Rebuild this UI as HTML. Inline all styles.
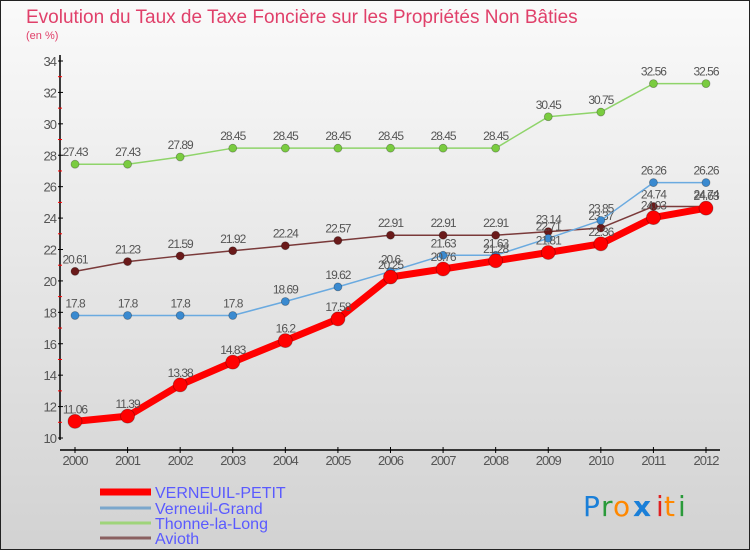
<!DOCTYPE html>
<html><head><meta charset="utf-8"><style>
body{margin:0}
#wrap{width:750px;height:550px;position:relative;overflow:hidden;background:linear-gradient(#fafafa,#d2d2d2);font-family:"Liberation Sans",sans-serif}
</style></head><body>
<div id="wrap">
<svg id="svg" width="750" height="550" xmlns="http://www.w3.org/2000/svg" style="position:absolute;left:0;top:0">
<rect x="0.5" y="0.5" width="749" height="549" fill="none" stroke="#222"/>
<text x="26" y="23" font-size="19" fill="#e0406a">Evolution du Taux de Taxe Foncière sur les Propriétés Non Bâties</text>
<text x="26" y="39" font-size="11" fill="#e0406a">(en %)</text>
<g id="axes"></g><g id="series"></g>
<g font-size="16" fill="#5a5aff">
<line x1="100" y1="492" x2="151" y2="492" stroke="#f00" stroke-width="7"/><text x="155" y="498">VERNEUIL-PETIT</text>
<line x1="100" y1="508" x2="151" y2="508" stroke="#7ba7cc" stroke-width="3"/><text x="155" y="514">Verneuil-Grand</text>
<line x1="100" y1="523" x2="151" y2="523" stroke="#9fd47a" stroke-width="3"/><text x="155" y="529">Thonne-la-Long</text>
<line x1="100" y1="538" x2="151" y2="538" stroke="#8a6060" stroke-width="3"/><text x="155" y="544">Avioth</text>
</g>
<g font-size="28" font-family="'DejaVu Sans',sans-serif">
<text x="583" y="516" fill="#1a7fd8">P</text><text x="601" y="516" fill="#2a9a3a">r</text><text x="613" y="516" fill="#ff8800">o</text><text x="633" y="516" fill="#1a7fd8" font-weight="bold">x</text><text x="656" y="516" fill="#e02020">i</text><text x="664" y="516" fill="#ff8800">t</text><text x="678" y="516" fill="#2a9a3a">i</text>
</g>
</svg></div>
<script>
const years=[2000,2001,2002,2003,2004,2005,2006,2007,2008,2009,2010,2011,2012];
const yTicks=[10,12,14,16,18,20,22,24,26,28,30,32,34];
const petit=[11.06,11.39,13.38,14.83,16.2,17.58,20.25,20.76,21.28,21.81,22.36,24.03,24.63];
const grand=[17.8,17.8,17.8,17.8,18.69,19.62,20.6,21.63,21.63,22.71,23.85,26.26,26.26];
const thonne=[27.43,27.43,27.89,28.45,28.45,28.45,28.45,28.45,28.45,30.45,30.75,32.56,32.56];
const avioth=[20.61,21.23,21.59,21.92,22.24,22.57,22.91,22.91,22.91,23.14,23.37,24.74,24.74];
const NS="http://www.w3.org/2000/svg";
const X=i=>75+i*(706-75)/12;
const Y=v=>438-(v-10)*(438-61)/24;
function mk(t,a,p){const e=document.createElementNS(NS,t);for(const k in a)e.setAttribute(k,a[k]);p.appendChild(e);return e;}
const ax=document.getElementById('axes');
const ya=mk('line',{x1:60,y1:55,x2:60,y2:440,stroke:'#000','stroke-width':1.5},ax);


const xa=mk('line',{x1:60,y1:450,x2:720,y2:450,stroke:'#000','stroke-width':1.5},ax);


yTicks.forEach(v=>{
  mk('line',{x1:58,y1:Y(v),x2:63,y2:Y(v),stroke:'#000'},ax);
  if(v<34)mk('line',{x1:58,y1:Y(v+1),x2:62,y2:Y(v+1),stroke:'#f00'},ax);
  const t=mk('text',{x:56,y:Y(v)+5,'text-anchor':'end','font-size':13,fill:'#555','letter-spacing':'-1'},ax);
  t.textContent=v;
  
  
});
years.forEach((yr,i)=>{
  mk('line',{x1:X(i),y1:447,x2:X(i),y2:453,stroke:'#000'},ax);
  const t=mk('text',{x:X(i),y:465,'text-anchor':'middle','font-size':13,fill:'#555','letter-spacing':'-1'},ax);
  t.textContent=yr;
  
  
});
const sg=document.getElementById('series');
function series(vals,color,w,r,dot,name){
  const g=mk('g',{},sg);
  
  
  mk('polyline',{points:vals.map((v,i)=>X(i)+','+Y(v)).join(' '),fill:'none',stroke:color,'stroke-width':w,'stroke-linejoin':'round'},g);
  vals.forEach((v,i)=>{
    const c=mk('circle',{cx:X(i),cy:Y(v),r:r,fill:dot,stroke:'rgba(0,0,0,0.3)','stroke-width':0.8},g);
    
    
    const t=mk('text',{x:X(i),y:Y(v)-8,'text-anchor':'middle','font-size':12,fill:'#555','letter-spacing':'-1'},g);
    t.textContent=v;
  });
}
series(avioth,'#7a3a3a',1.5,4,'#6a1a1a','series-avioth');
series(thonne,'#8fd46a',1.5,4,'#7acc40','series-thonne-la-long');
series(grand,'#6aaae0',1.5,4,'#3a8ad0','series-verneuil-grand');
series(petit,'#f00',7,7,'#f00','series-verneuil-petit');
</script>
</body></html>
